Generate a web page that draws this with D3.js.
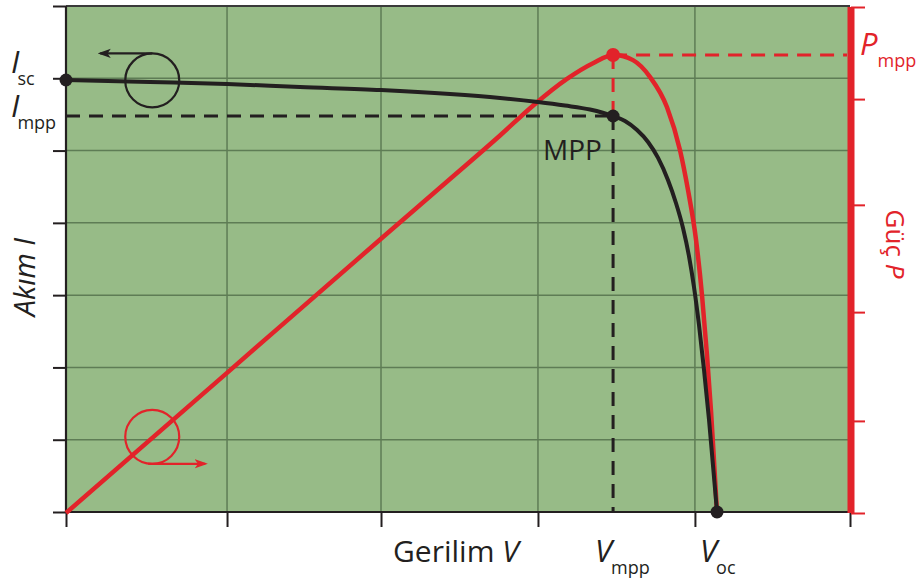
<!DOCTYPE html>
<html>
<head>
<meta charset="utf-8">
<script src="https://cdn.jsdelivr.net/npm/d3@7"></script>
<style>
  body { margin: 0; background: #fff; }
  svg { display: block; font-family: "Open Sans", sans-serif; }
</style>
</head>
<body>
<svg id="chart" width="916" height="582"></svg>
<script>
// voltage (grid units), current (left axis units), power (right axis, 0..100)
const ivVoltage = [0, 0.536, 1.027, 1.492, 2.009, 2.449, 2.768, 3.01, 3.182, 3.342, 3.489, 3.565, 3.642, 3.712, 3.776, 3.839, 3.89, 3.935, 3.973, 4.005, 4.037, 4.069, 4.101, 4.126, 4.152];
const ivCurrent = [5.976, 5.948, 5.921, 5.879, 5.838, 5.783, 5.728, 5.672, 5.623, 5.568, 5.478, 5.409, 5.284, 5.119, 4.898, 4.593, 4.275, 3.929, 3.541, 3.113, 2.587, 1.964, 1.273, 0.65, 0];

const pvVoltage = [0, 1.027, 2.009, 2.449, 2.768, 2.978, 3.195, 3.361, 3.495, 3.616, 3.724, 3.833, 3.916, 3.967, 4.018, 4.056, 4.088, 4.114, 4.133, 4.152];
const pvPower = [0, 27.7, 54.2, 66.0, 74.6, 80.5, 85.8, 88.9, 90.5, 89.5, 86.2, 80.2, 71.7, 63.8, 54.0, 43.1, 31.2, 20.0, 10.1, 0];

const xTicks = [0, 1.027, 2.009, 3.01, 4.011, 5];
const iTicks = [0, 1, 2, 3, 4, 5, 6, 7];
const pTicks = [0, 18.2, 39.7, 60.9, 81.8, 100];

// key points
const isc = { v: 0, i: 5.976 };
const mpp = { v: 3.489, i: 5.478, p: 90.5 };
const voc = { v: 4.152, i: 0 };

const RED = "#e2232a";
const INK = "#231f20";

const svg = d3.select("#chart");
const x = d3.scaleLinear().domain([0, 5]).range([66, 850]);
const yI = d3.scaleLinear().domain([0, 7]).range([512, 6]);
const yP = d3.scaleLinear().domain([0, 100]).range([513, 7]);

// plot background
svg.append("rect")
  .attr("x", x(0)).attr("y", yI(7))
  .attr("width", x(5) - x(0)).attr("height", yI(0) - yI(7))
  .attr("fill", "#97bb87");

// grid
svg.append("g").selectAll("line").data(xTicks.slice(1, -1)).join("line")
  .attr("x1", d => x(d)).attr("x2", d => x(d))
  .attr("y1", yI(7)).attr("y2", yI(0))
  .attr("stroke", "#5e7c55").attr("stroke-width", 1.5);
svg.append("g").selectAll("line").data(iTicks.slice(1, -1)).join("line")
  .attr("x1", x(0)).attr("x2", x(5))
  .attr("y1", d => yI(d)).attr("y2", d => yI(d))
  .attr("stroke", "#5e7c55").attr("stroke-width", 1.5);

// top border
svg.append("line")
  .attr("x1", x(0)).attr("x2", x(5)).attr("y1", yI(7)).attr("y2", yI(7))
  .attr("stroke", "#3a3a3a").attr("stroke-width", 2);

// left axis
const leftAxis = svg.append("g")
  .attr("transform", `translate(${x(0)},0)`)
  .call(d3.axisLeft(yI).tickValues(iTicks).tickSize(13).tickFormat(""));
// bottom axis
const bottomAxis = svg.append("g")
  .attr("transform", `translate(0,${yI(0)})`)
  .call(d3.axisBottom(x).tickValues(xTicks).tickSize(15).tickFormat(""));
[leftAxis, bottomAxis].forEach(g => {
  g.select(".domain").attr("stroke", INK).attr("stroke-width", 2.2);
  g.selectAll(".tick line").attr("stroke", INK).attr("stroke-width", 2);
});
leftAxis.select(".domain").attr("d", `M0,${yI(7)}V${yI(0)}`);
bottomAxis.select(".domain").attr("d", `M${x(0)},0H${x(5)}`);

// right (power) axis
const rightAxis = svg.append("g")
  .attr("transform", `translate(${x(5) + 1},0)`)
  .call(d3.axisRight(yP).tickValues(pTicks).tickSize(14).tickFormat(""));
rightAxis.select(".domain").attr("d", `M0,${yP(100)}V${yP(0)}`)
  .attr("stroke", RED).attr("stroke-width", 7);
rightAxis.selectAll(".tick line").attr("stroke", RED).attr("stroke-width", 2);

// dashed guides
const dash = "14,9";
svg.append("line")
  .attr("x1", x(0)).attr("x2", x(mpp.v)).attr("y1", yI(mpp.i)).attr("y2", yI(mpp.i))
  .attr("stroke", INK).attr("stroke-width", 3).attr("stroke-dasharray", dash);
svg.append("line")
  .attr("x1", x(mpp.v)).attr("x2", x(mpp.v)).attr("y1", yI(mpp.i)).attr("y2", yI(0))
  .attr("stroke", INK).attr("stroke-width", 3).attr("stroke-dasharray", dash);
svg.append("line")
  .attr("x1", x(mpp.v)).attr("x2", x(mpp.v)).attr("y1", yP(mpp.p)).attr("y2", yI(mpp.i))
  .attr("stroke", RED).attr("stroke-width", 3).attr("stroke-dasharray", dash);
svg.append("line")
  .attr("x1", x(mpp.v)).attr("x2", x(5) - 3).attr("y1", yP(mpp.p)).attr("y2", yP(mpp.p))
  .attr("stroke", RED).attr("stroke-width", 3).attr("stroke-dasharray", dash);

// curves
const ivLine = d3.line().curve(d3.curveMonotoneX)
  .x((d, k) => x(ivVoltage[k])).y(d => yI(d));
const pvLine = d3.line().curve(d3.curveMonotoneX)
  .x((d, k) => x(pvVoltage[k])).y(d => yP(d));

svg.append("path").datum(pvPower).attr("d", pvLine)
  .attr("fill", "none").attr("stroke", RED).attr("stroke-width", 4.5);
svg.append("path").datum(ivCurrent).attr("d", ivLine)
  .attr("fill", "none").attr("stroke", INK).attr("stroke-width", 4);

// markers
svg.append("circle").attr("cx", x(mpp.v)).attr("cy", yP(mpp.p)).attr("r", 7).attr("fill", RED);
[isc, mpp, voc].forEach(d => {
  svg.append("circle").attr("cx", x(d.v)).attr("cy", yI(d.i)).attr("r", 6.5).attr("fill", INK);
});

// arrow heads
const defs = svg.append("defs");
[["headInk", INK], ["headRed", RED]].forEach(([id, c]) => {
  defs.append("marker").attr("id", id)
    .attr("viewBox", "0 0 10 10").attr("refX", 8).attr("refY", 5)
    .attr("markerWidth", 6).attr("markerHeight", 6).attr("orient", "auto-start-reverse")
    .append("path").attr("d", "M0,1.5L10,5L0,8.5L2.5,5Z").attr("fill", c);
});

// axis-association symbols
const symI = { v: 0.55, i: 5.97 };
const r = 27;
svg.append("circle").attr("cx", x(symI.v)).attr("cy", yI(symI.i)).attr("r", r)
  .attr("fill", "none").attr("stroke", INK).attr("stroke-width", 2.2);
svg.append("line")
  .attr("x1", x(symI.v)).attr("y1", yI(symI.i) - r)
  .attr("x2", x(symI.v) - 52).attr("y2", yI(symI.i) - r)
  .attr("stroke", INK).attr("stroke-width", 2.2).attr("marker-end", "url(#headInk)");

const symP = { v: 0.55, i: 1.04 };
svg.append("circle").attr("cx", x(symP.v)).attr("cy", yI(symP.i)).attr("r", r)
  .attr("fill", "none").attr("stroke", RED).attr("stroke-width", 2.2);
svg.append("line")
  .attr("x1", x(symP.v) - 4).attr("y1", yI(symP.i) + r)
  .attr("x2", x(symP.v) + 53).attr("y2", yI(symP.i) + r)
  .attr("stroke", RED).attr("stroke-width", 2.2).attr("marker-end", "url(#headRed)");

// labels with subscripts
function subLabel(px, py, main, sub, color, subDx) {
  const t = svg.append("text").attr("x", px).attr("y", py).attr("fill", color);
  t.append("tspan").attr("font-size", 31).attr("font-style", "italic").text(main);
  t.append("tspan").attr("font-size", 18).attr("dx", subDx).attr("dy", 12).text(sub);
}
subLabel(11, yI(isc.i) - 7, "I", "sc", INK, -2);
subLabel(11, yI(mpp.i) + 1, "I", "mpp", INK, -2);
subLabel(860, yP(mpp.p), "P", "mpp", RED, 0);
subLabel(x(mpp.v) - 18, 562, "V", "mpp", INK, -1);
subLabel(x(voc.v) - 17, 562, "V", "oc", INK, -1);

svg.append("text").attr("x", x(mpp.v) - 70).attr("y", 160)
  .attr("font-size", 28).attr("fill", INK).text("MPP");

const gl = svg.append("text").attr("x", 393).attr("y", 562)
  .attr("font-size", 30).attr("fill", INK);
gl.append("tspan").text("Gerilim ");
gl.append("tspan").attr("font-style", "italic").text("V");

svg.append("text").attr("transform", "translate(35,277) rotate(-90)")
  .attr("text-anchor", "middle").attr("font-size", 29).attr("font-style", "italic")
  .attr("fill", INK).text("Akım I");

const gp = svg.append("text").attr("transform", "translate(886,244) rotate(90)")
  .attr("text-anchor", "middle").attr("font-size", 26).attr("fill", RED);
gp.append("tspan").text("Güç ");
gp.append("tspan").attr("font-style", "italic").text("P");
</script>
</body>
</html>
